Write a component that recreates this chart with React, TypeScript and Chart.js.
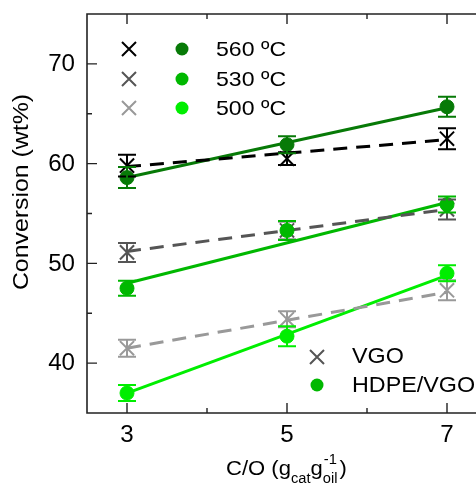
import React, { useEffect, useRef } from 'react';
import { Chart, registerables } from 'chart.js';

Chart.register(...registerables);

// ---------- data ----------
const catalystOil = [3, 5, 7];
const fitRange = [3, 7];

const vgo560 = [59.8, 60.5, 62.5];
const vgo560Err = [1.1, 0.65, 1.05];
const vgo530 = [51.1, 53.3, 55.4];
const vgo530Err = [0.95, 0.9, 1.0];
const vgo500 = [41.5, 44.4, 47.3];
const vgo500Err = [0.85, 0.8, 1.0];

const hdpe560 = [58.6, 61.9, 65.7];
const hdpe560Err = [1.05, 0.85, 1.0];
const hdpe530 = [47.5, 53.3, 55.9];
const hdpe530Err = [0.75, 0.95, 0.8];
const hdpe500 = [37.0, 42.7, 49.0];
const hdpe500Err = [0.8, 1.0, 0.8];

const fitVgo560 = [59.7, 62.4];
const fitVgo530 = [51.2, 55.4];
const fitVgo500 = [41.5, 47.1];
const fitHdpe560 = [58.6, 65.6];
const fitHdpe530 = [48.0, 56.1];
const fitHdpe500 = [37.0, 48.8];

const xMajorTicks = [3, 5, 7];
const xMinorTicks = [4, 6];
const yMajorTicks = [40, 50, 60, 70];
const yMinorTicks = [45, 55, 65];

const tempLabels = ['560 ºC', '530 ºC', '500 ºC'];
const feedLabels = ['VGO', 'HDPE/VGO'];
const yTitle = 'Conversion (wt%)';

// ---------- style ----------
const FONT = '"Liberation Sans", Arial, Helvetica, sans-serif';
const greens = ['#077a07', '#00b800', '#00ee00'];
const greys = ['#000000', '#555555', '#999999'];
const AXIS = '#222222';

function pts(xs: number[], ys: number[]) {
  return xs.map((x, i) => ({ x, y: ys[i] }));
}

function drawText(ctx: CanvasRenderingContext2D, s: string, x: number, y: number, align: 'left' | 'center' | 'right', size: number, sx = 1) {
  ctx.font = `${size}px ${FONT}`;
  const w = ctx.measureText(s).width * sx;
  let x0 = x;
  if (align === 'center') x0 = x - w / 2;
  if (align === 'right') x0 = x - w;
  ctx.save();
  ctx.translate(x0, y);
  ctx.scale(sx, 1);
  ctx.textAlign = 'left';
  ctx.fillText(s, 0, 0);
  ctx.restore();
  return w;
}

function drawCross(ctx: CanvasRenderingContext2D, x: number, y: number, r: number, color: string, lw: number) {
  ctx.save();
  ctx.strokeStyle = color;
  ctx.lineWidth = lw;
  ctx.beginPath();
  ctx.moveTo(x - r, y - r);
  ctx.lineTo(x + r, y + r);
  ctx.moveTo(x - r, y + r);
  ctx.lineTo(x + r, y - r);
  ctx.stroke();
  ctx.restore();
}

function drawDot(ctx: CanvasRenderingContext2D, x: number, y: number, r: number, color: string) {
  ctx.save();
  ctx.fillStyle = color;
  ctx.beginPath();
  ctx.arc(x, y, r, 0, Math.PI * 2);
  ctx.fill();
  ctx.restore();
}

const errorBarPlugin = {
  id: 'errorBars',
  afterDatasetsDraw(chart: any) {
    const ctx = chart.ctx as CanvasRenderingContext2D;
    const xs = chart.scales.x;
    const ys = chart.scales.y;
    chart.data.datasets.forEach((ds: any, i: number) => {
      if (!ds.errors) return;
      const meta = chart.getDatasetMeta(i);
      if (meta.hidden) return;
      ctx.save();
      ctx.strokeStyle = ds.errorColor;
      ctx.lineWidth = 2;
      ds.data.forEach((p: any, j: number) => {
        const e = ds.errors[j];
        const px = xs.getPixelForValue(p.x);
        const top = ys.getPixelForValue(p.y + e);
        const bot = ys.getPixelForValue(p.y - e);
        ctx.beginPath();
        ctx.moveTo(px, top);
        ctx.lineTo(px, bot);
        ctx.moveTo(px - 9, top);
        ctx.lineTo(px + 9, top);
        ctx.moveTo(px - 9, bot);
        ctx.lineTo(px + 9, bot);
        ctx.stroke();
      });
      ctx.restore();
    });
  },
};

const framePlugin = {
  id: 'frame',
  afterDraw(chart: any) {
    const ctx = chart.ctx as CanvasRenderingContext2D;
    const xs = chart.scales.x;
    const ys = chart.scales.y;
    const { left, right, top, bottom } = chart.chartArea;
    ctx.save();
    ctx.strokeStyle = AXIS;
    ctx.lineWidth = 1.6;
    ctx.beginPath();
    ctx.moveTo(left, top);
    ctx.lineTo(left, bottom);
    ctx.lineTo(right, bottom);
    ctx.lineTo(right, top);
    ctx.closePath();
    ctx.stroke();

    ctx.lineWidth = 1.4;
    ctx.beginPath();
    yMajorTicks.forEach((v) => {
      const py = ys.getPixelForValue(v);
      ctx.moveTo(left, py); ctx.lineTo(left + 10, py);
      ctx.moveTo(right, py); ctx.lineTo(right - 10, py);
    });
    yMinorTicks.forEach((v) => {
      const py = ys.getPixelForValue(v);
      ctx.moveTo(left, py); ctx.lineTo(left + 5, py);
      ctx.moveTo(right, py); ctx.lineTo(right - 5, py);
    });
    xMajorTicks.forEach((v) => {
      const px = xs.getPixelForValue(v);
      ctx.moveTo(px, bottom); ctx.lineTo(px, bottom - 10);
      ctx.moveTo(px, top); ctx.lineTo(px, top + 10);
    });
    xMinorTicks.forEach((v) => {
      const px = xs.getPixelForValue(v);
      ctx.moveTo(px, bottom); ctx.lineTo(px, bottom - 5);
      ctx.moveTo(px, top); ctx.lineTo(px, top + 5);
    });
    ctx.stroke();

    // tick labels
    ctx.fillStyle = '#000';
    ctx.textBaseline = 'middle';
    yMajorTicks.forEach((v) => {
      drawText(ctx, String(v), left - 12, ys.getPixelForValue(v) + 1, 'right', 23, 1.05);
    });
    xMajorTicks.forEach((v) => {
      drawText(ctx, String(v), xs.getPixelForValue(v), bottom + 23, 'center', 23, 1.05);
    });

    // y title
    ctx.save();
    ctx.translate(22, 192);
    ctx.rotate(-Math.PI / 2);
    drawText(ctx, yTitle, 0, 0, 'center', 22, 1.13);
    ctx.restore();

    // x title with sub/superscripts
    ctx.textBaseline = 'alphabetic';
    let x = 226;
    const base = 475;
    const S = 1.05;
    x += drawText(ctx, 'C/O (g', x, base, 'left', 21, S);
    x += drawText(ctx, 'cat', x, base + 8, 'left', 14, S);
    x += drawText(ctx, 'g', x, base, 'left', 21, S);
    const w1 = drawText(ctx, '-1', x + 1, base - 11, 'left', 14, S);
    const w2 = drawText(ctx, 'oil', x, base + 8, 'left', 14, S);
    x += Math.max(w1 + 1, w2) + 2;
    drawText(ctx, ')', x, base, 'left', 21, S);

    // legend top-left
    ctx.textBaseline = 'middle';
    const rows = [49, 79, 108];
    rows.forEach((ry, i) => {
      drawCross(ctx, 129, ry, 7, greys[i], 2);
      drawDot(ctx, 182, ry, 6.5, greens[i]);
      ctx.fillStyle = '#000';
      drawText(ctx, tempLabels[i], 216, ry + 1, 'left', 21, 1.1);
    });
    // legend bottom-right
    drawCross(ctx, 317, 357, 7, greys[1], 2);
    drawDot(ctx, 317, 385, 6.5, greens[1]);
    ctx.fillStyle = '#000';
    drawText(ctx, feedLabels[0], 352, 357, 'left', 22, 1.06);
    drawText(ctx, feedLabels[1], 352, 386, 'left', 22, 1.06);
    ctx.restore();
  },
};

function fitDs(ys: number[], color: string, dashed: boolean) {
  return {
    type: 'line' as const,
    data: pts(fitRange, ys),
    borderColor: color,
    borderWidth: 3,
    borderDash: dashed ? [14, 9] : [],
    pointRadius: 0,
    fill: false,
    tension: 0,
    order: 5,
  };
}

function crossDs(ys: number[], errs: number[], color: string) {
  return {
    type: 'scatter' as const,
    data: pts(catalystOil, ys),
    pointStyle: 'crossRot',
    pointRadius: 10,
    pointBorderWidth: 2,
    borderColor: color,
    backgroundColor: color,
    errors: errs,
    errorColor: color,
    order: 2,
  };
}

function dotDs(ys: number[], errs: number[], color: string) {
  return {
    type: 'scatter' as const,
    data: pts(catalystOil, ys),
    pointStyle: 'circle',
    pointRadius: 7,
    pointBorderWidth: 1,
    borderColor: color,
    backgroundColor: color,
    errors: errs,
    errorColor: color,
    order: 1,
  };
}

export default function App() {
  const ref = useRef<HTMLCanvasElement>(null);
  useEffect(() => {
    if (!ref.current) return;
    const chart = new Chart(ref.current, {
      type: 'scatter',
      data: {
        datasets: [
          fitDs(fitVgo560, greys[0], true),
          fitDs(fitVgo530, greys[1], true),
          fitDs(fitVgo500, greys[2], true),
          fitDs(fitHdpe560, greens[0], false),
          fitDs(fitHdpe530, greens[1], false),
          fitDs(fitHdpe500, greens[2], false),
          crossDs(vgo560, vgo560Err, greys[0]),
          crossDs(vgo530, vgo530Err, greys[1]),
          crossDs(vgo500, vgo500Err, greys[2]),
          dotDs(hdpe560, hdpe560Err, greens[0]),
          dotDs(hdpe530, hdpe530Err, greens[1]),
          dotDs(hdpe500, hdpe500Err, greens[2]),
        ] as any,
      },
      options: {
        responsive: false,
        animation: false,
        devicePixelRatio: 1,
        layout: { padding: { left: 87, top: 14, right: 13, bottom: 73 } },
        plugins: { legend: { display: false }, tooltip: { enabled: false } },
        scales: {
          x: { type: 'linear', min: 2.5, max: 7.5, display: false },
          y: { type: 'linear', min: 35, max: 75, display: false },
        },
      } as any,
      plugins: [errorBarPlugin, framePlugin],
    });
    return () => chart.destroy();
  }, []);
  return (
    <div style={{ position: 'fixed', left: 0, top: 0, width: 476, height: 486, overflow: 'hidden', background: '#fff' }}>
      <canvas ref={ref} width={500} height={486} style={{ display: 'block', width: 500, height: 486 }} />
    </div>
  );
}
